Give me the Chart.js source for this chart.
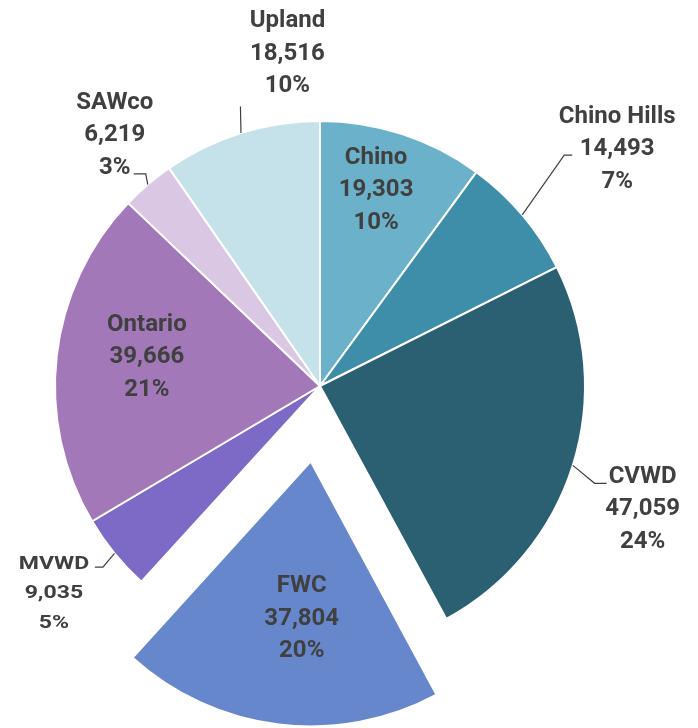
<!DOCTYPE html>
<html>
<head>
<meta charset="utf-8">
<script src="https://cdn.jsdelivr.net/npm/chart.js@4"></script>
<style>
    html, body { margin: 0; padding: 0; background: #ffffff; }
    #wrap { width: 698px; height: 728px; }
</style>
</head>
<body>
<div id="wrap"><canvas id="shareChart" width="698" height="728"></canvas></div>
<script>
// Data
const categories = ['Chino', 'Chino Hills', 'CVWD', 'FWC', 'MVWD', 'Ontario', 'SAWco', 'Upland'];
const volumes = [19303, 14493, 47059, 37804, 9035, 39666, 6219, 18516];
const shareLabels = ['10%', '7%', '24%', '20%', '5%', '21%', '3%', '10%'];
const sliceColors = ['#6bb1c9', '#3f8ea9', '#2b6072', '#6787cd', '#7d6ac6', '#a278b9', '#d9c7e3', '#c5e1e9'];
const explodedSlice = 'FWC';

// Label placement: dist = fraction of radius along the slice middle, turn = degrees added to it
const labelLayout = {
    'Chino':       { dist: 0.777, turn: -2.3 },
    'Chino Hills': { dist: 1.44, turn: 1.4, leader: { dx: -45, dy: 8.5, tail: -8 } },
    'CVWD':        { dist: 1.30, turn: 3.1, leader: { dx: -36, dy: -23.5, tail: -12 } },
    'FWC':         { dist: 0.585, turn: -3.6 },
    'MVWD':        { dist: 1.27, turn: 1.4, small: true, leader: { dx: 41, dy: -25, tail: 8 } },
    'Ontario':     { dist: 0.664, turn: 3.8 },
    'SAWco':       { dist: 1.23, turn: 1.5, leader: { dx: 19, dy: 41, tail: 12 } },
    'Upland':      { dist: 1.27, turn: 11.8, leader: { dx: -47, dy: 55.5, tail: 0 } }
};

const PIE_RADIUS = 265;
const EXPLODE_PX = 76;
const textColor = '#404040';

// Chart.js grows an offset arc a little; pull it back to the pie radius
const keepRadius = {
    id: 'keepRadius',
    afterDatasetsUpdate(chart) {
        const meta = chart.getDatasetMeta(0);
        meta.data.forEach((arc, i) => {
            if (categories[i] !== explodedSlice) return;
            const circ = arc.endAngle - arc.startAngle;
            const fix = 1 - Math.sin(Math.min(Math.PI, circ));
            arc.outerRadius = PIE_RADIUS - EXPLODE_PX * fix;
        });
    }
};

const sliceLabels = {
    id: 'sliceLabels',
    afterDatasetsDraw(chart) {
        const ctx = chart.ctx;
        const meta = chart.getDatasetMeta(0);
        meta.data.forEach((arc, i) => {
            const name = categories[i];
            const cfg = labelLayout[name];
            const p = arc.getProps(['x', 'y', 'startAngle', 'endAngle'], true);
            const r = PIE_RADIUS;
            const mid = (p.startAngle + p.endAngle) / 2;
            let cx = p.x;
            let cy = p.y;
            if (name === explodedSlice) {
                cx += Math.cos(mid) * EXPLODE_PX;
                cy += Math.sin(mid) * EXPLODE_PX;
            }
            const ang = mid + cfg.turn * Math.PI / 180;
            const lx = cx + Math.cos(ang) * r * cfg.dist;
            const ly = cy + Math.sin(ang) * r * cfg.dist;

            // leader line
            if (cfg.leader) {
                const sx = cx + Math.cos(mid) * r;
                const sy = cy + Math.sin(mid) * r;
                const ex = lx + cfg.leader.dx;
                const ey = ly + cfg.leader.dy;
                ctx.save();
                ctx.strokeStyle = textColor;
                ctx.lineWidth = 1.2;
                ctx.beginPath();
                ctx.moveTo(sx, sy);
                ctx.lineTo(ex + cfg.leader.tail, ey);
                ctx.lineTo(ex, ey);
                ctx.stroke();
                ctx.restore();
            }

            const lines = [name, volumes[i].toLocaleString('en-US'), shareLabels[i]];
            const size = cfg.small ? 18 : 24;
            const lh = cfg.small ? 29.5 : 32.5;
            const capH = size * 0.711;
            ctx.save();
            ctx.fillStyle = textColor;
            ctx.textAlign = 'center';
            ctx.textBaseline = 'alphabetic';
            ctx.font = 'bold ' + size + 'px Roboto, "Open Sans", sans-serif';
            lines.forEach((txt, k) => {
                const by = ly + capH / 2 + (k - 1) * lh;
                if (cfg.small) {
                    ctx.save();
                    ctx.translate(lx, by);
                    ctx.scale(1.28, 1);
                    ctx.fillText(txt, 0, 0);
                    ctx.restore();
                } else {
                    ctx.fillText(txt, lx, by);
                }
            });
            ctx.restore();
        });
    }
};

const ctx = document.getElementById('shareChart').getContext('2d');
new Chart(ctx, {
    type: 'pie',
    data: {
        labels: categories,
        datasets: [{
            data: volumes,
            backgroundColor: sliceColors,
            borderColor: '#ffffff',
            borderWidth: 2,
            radius: PIE_RADIUS,
            // Chart.js v4 moves an arc by offset / 4
            offset: categories.map(c => (c === explodedSlice ? EXPLODE_PX * 4 : 0))
        }]
    },
    options: {
        responsive: false,
        animation: false,
        layout: { padding: { left: 0, right: 58, top: 44, bottom: 0 } },
        plugins: {
            legend: { display: false },
            tooltip: { enabled: false }
        }
    },
    plugins: [keepRadius, sliceLabels]
});
</script>
</body>
</html>
